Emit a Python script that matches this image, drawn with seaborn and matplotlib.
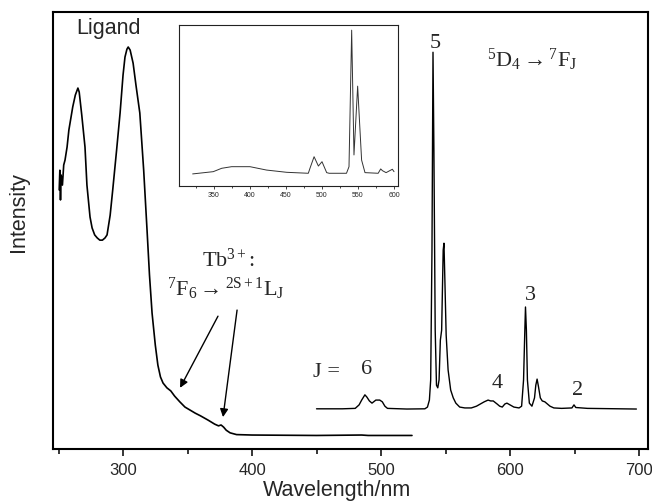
import numpy as np
import pandas as pd
import matplotlib
matplotlib.use("Agg")
import matplotlib.pyplot as plt
import seaborn as sns

# excitation spectrum (ligand + Tb f-f lines), wavelength in nm / intensity (a.u.)
exc_wl = [250.5, 251, 251.5, 252, 253, 254, 255, 256.6, 258, 261, 263, 265, 266, 268,
          270.5, 272, 274.4, 276, 278, 280, 282, 284, 286, 287.6, 290, 292, 295, 297.7,
          300, 301.5, 303, 304, 305.5, 307.8, 310, 313, 316, 318.6, 320.5, 322.5, 325,
          327, 329, 331, 334, 337, 340, 344, 348, 352, 356, 360, 366, 371, 374, 376,
          378, 380, 383, 388, 400, 450, 485, 490, 524]
exc_int = [59.3, 63.8, 57.0, 62.7, 60.4, 65.0, 66.1, 69.1, 73.0, 78.3, 81.0, 82.6, 81.7, 76.4,
           69.1, 60.4, 53.1, 50.6, 49.0, 48.3, 47.8, 47.8, 48.3, 49.0, 53.5, 59.3, 68.4, 76.9,
           85.6, 89.7, 91.5, 92.0, 91.3, 88.3, 83.3, 76.9, 63.8, 50.1, 39.8, 31.1, 23.8,
           19.2, 16.5, 15.1, 14.0, 13.3, 12.1, 10.8, 9.6, 8.9, 8.2, 7.6, 6.6, 5.7, 5.3, 5.5,
           5.0, 4.3, 3.7, 3.3, 3.2, 3.1, 3.2, 3.1, 3.1]

# emission spectrum 5D4 -> 7FJ
em_wl = [450, 470, 480, 483, 485, 487.5, 489, 491, 493, 496, 499, 501, 503, 505, 520, 534,
         536, 537.5, 538.5, 539.5, 540.3, 541, 542, 543, 544, 545, 546, 547, 548.2, 548.8,
         549.5, 550.5, 552, 554, 556, 558, 561, 565, 570, 574, 577, 580, 583, 585, 587,
         590, 592, 594, 596, 597.6, 600, 603, 607, 609, 610.5, 611.5, 612, 612.7, 613.5,
         615, 617, 619, 620, 621, 622, 623.5, 625, 627, 629, 631, 634, 640, 648, 649.6,
         651, 660, 698]
em_int = [9.2, 9.2, 9.3, 10.1, 11.2, 12.4, 11.9, 11.0, 10.5, 11.2, 11.2, 10.8, 9.8, 9.3, 9.15, 9.2,
          9.6, 11.2, 15.8, 45.5, 90.8, 68.4, 27.2, 14.6, 14.0, 15.8, 24.9, 27.2, 45.5, 47.1,
          38.7, 26.1, 18.1, 13.5, 11.7, 10.5, 9.6, 9.4, 9.4, 9.8, 10.3, 10.8, 11.2, 11.0, 11.0,
          10.3, 9.8, 9.6, 10.3, 10.5, 10.1, 9.6, 9.4, 9.8, 15.8, 27.2, 32.5, 27.2, 15.8,
          10.5, 9.8, 11.7, 14.6, 16.0, 14.4, 11.7, 11.0, 10.8, 10.3, 9.8, 9.4, 9.3, 9.4, 10.1,
          9.5, 9.3, 9.15]

# inset: emission, normalised
ins_wl = [320.4, 349, 360.7, 374.5, 400, 423, 451, 481, 483.3, 489, 495, 500, 506.5, 510,
          534, 537.5, 541.2, 544.4, 549.5, 552, 555, 559.7, 578, 581.5, 584, 589, 597.7, 600]
ins_int = [0.075, 0.089, 0.110, 0.120, 0.120, 0.099, 0.085, 0.079, 0.110, 0.182, 0.124, 0.151,
           0.083, 0.079, 0.079, 0.120, 0.969, 0.193, 0.621, 0.41, 0.161, 0.083, 0.079, 0.106,
           0.095, 0.083, 0.104, 0.089]

exc = pd.DataFrame({"wl": exc_wl, "I": exc_int})
em = pd.DataFrame({"wl": em_wl, "I": em_int})
ins = pd.DataFrame({"wl": ins_wl, "I": ins_int})

sns.set_theme(style="ticks")
plt.rcParams["font.family"] = ["Liberation Sans", "DejaVu Sans"]
plt.rcParams["mathtext.fontset"] = "custom"
plt.rcParams["mathtext.rm"] = "Liberation Serif"
plt.rcParams["mathtext.it"] = "Liberation Serif:italic"
plt.rcParams["mathtext.bf"] = "Liberation Serif:bold"
plt.rcParams["mathtext.default"] = "rm"

fig = plt.figure(figsize=(6.52, 5.04), dpi=100)
ax = fig.add_axes([0.0813, 0.1091, 0.9126, 0.867])

sns.lineplot(data=exc, x="wl", y="I", ax=ax, color="black", lw=1.2, sort=False, estimator=None)
sns.lineplot(data=em, x="wl", y="I", ax=ax, color="black", lw=1.0, sort=False, estimator=None)

ax.set_xlim(245.7, 707)
ax.set_ylim(0, 100)
ax.set_xticks([300, 400, 500, 600, 700])
ax.set_xticks([250, 350, 450, 550, 650], minor=True)
ax.set_yticks([])
ax.tick_params(axis="x", which="major", direction="out", length=5, width=1.3, labelsize=12, pad=5)
ax.tick_params(axis="x", which="minor", direction="out", length=3.5, width=1.3)
for s in ax.spines.values():
    s.set_linewidth(1.5)
    s.set_color("black")
ax.set_xlabel("Wavelength/nm", fontsize=15.5)
ax.set_ylabel("Intensity", fontsize=15.5)
ax.xaxis.set_label_coords(0.477, -0.072)
ax.yaxis.set_label_coords(-0.040, 0.542)

serif = ["Liberation Serif", "DejaVu Serif"]
ax.text(288.4, 96.3, "Ligand", fontsize=15.5, ha="center", va="center")
ax.text(541.9, 92.9, "5", fontsize=16, family=serif, ha="center", va="center")
ax.text(617, 89.0, r"$^{5}D_{4}\rightarrow{}^{7}F_{J}$", fontsize=16, family=serif,
        ha="center", va="center")
ax.text(381.4, 43.2, r"Tb$^{3+}$:", fontsize=16, family=serif, ha="center", va="center")
ax.text(379.8, 36.6, r"$^{7}F_{6}\rightarrow{}^{2S+1}L_{J}$", fontsize=16, family=serif,
        ha="center", va="center")
ax.text(458, 17.6, "J =", fontsize=16, family=serif, ha="center", va="center")
ax.text(489, 18.1, "6", fontsize=16, family=serif, ha="center", va="center")
ax.text(590, 15.1, "4", fontsize=16, family=serif, ha="center", va="center")
ax.text(615.5, 35.2, "3", fontsize=16, family=serif, ha="center", va="center")
ax.text(652, 13.5, "2", fontsize=16, family=serif, ha="center", va="center")

arrow = dict(arrowstyle="-|>", color="black", lw=1.0, mutation_scale=12, shrinkA=0, shrinkB=0)
ax.annotate("", xy=(344.2, 14.0), xytext=(373.6, 30.4), arrowprops=arrow)
ax.annotate("", xy=(377.5, 7.3), xytext=(388.4, 31.8), arrowprops=arrow)

# inset
axi = fig.add_axes([0.2745, 0.631, 0.336, 0.319])
sns.lineplot(data=ins, x="wl", y="I", ax=axi, color="#333333", lw=0.7, sort=False, estimator=None)
axi.set_xlim(301.4, 605.6)
axi.set_ylim(0, 1)
axi.set_xticks([350, 400, 450, 500, 550, 600])
axi.set_xticks([325, 375, 425, 475, 525, 575], minor=True)
axi.set_yticks([])
axi.tick_params(axis="x", which="major", direction="out", length=2.5, width=0.6, labelsize=5, pad=2)
axi.tick_params(axis="x", which="minor", direction="out", length=1.5, width=0.6)
for s in axi.spines.values():
    s.set_linewidth(0.8)
    s.set_color("#222222")
axi.set_xlabel("")
axi.set_ylabel("")

fig.savefig("out.png", dpi=100)
